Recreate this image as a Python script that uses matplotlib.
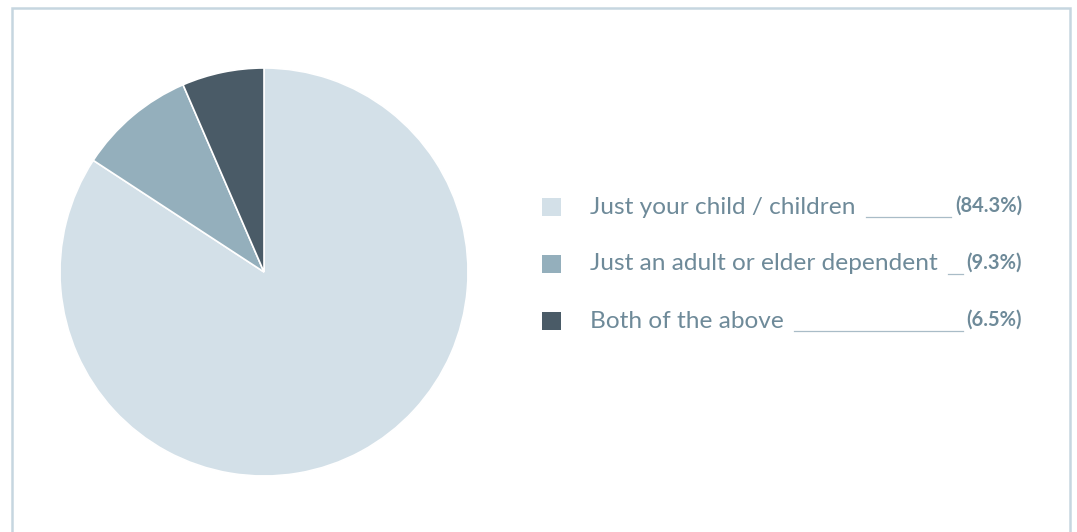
import matplotlib
matplotlib.use("Agg")
import matplotlib.pyplot as plt
from matplotlib.patches import Rectangle

# categories and shares
labels = ["Just your child / children", "Just an adult or elder dependent", "Both of the above"]
shares = [84.3, 9.3, 6.5]
pct_labels = ["(84.3%)", "(9.3%)", "(6.5%)"]
colors = ["#d3e0e8", "#94afbc", "#4a5b67"]

text_color = "#6e8a99"
plt.rcParams['font.family'] = ['Lato', 'DejaVu Sans']

W, H = 1077, 532
fig = plt.figure(figsize=(W / 100, H / 100), dpi=100)
fig.patch.set_facecolor("white")

# outer frame (open at the bottom)
fig.patches.append(Rectangle((12 / W, -0.1), (1070 - 12) / W, 1.1 - 8 / H,
                             transform=fig.transFigure, fill=False,
                             edgecolor="#c6d6e0", linewidth=1.8))

# pie
r = 204
cx, cy = 264, 272
ax = fig.add_axes([(cx - r) / W, (H - cy - r) / H, 2 * r / W, 2 * r / H])
ax.pie(shares, colors=colors, startangle=90, counterclock=False,
       wedgeprops=dict(edgecolor="white", linewidth=1.2))
ax.set_aspect("equal")
ax.set_xlim(-1, 1)
ax.set_ylim(-1, 1)
ax.axis("off")

# legend rows
row_y = [207, 264, 321]
fig.canvas.draw()
renderer = fig.canvas.get_renderer()
for lab, pct, col, y in zip(labels, pct_labels, colors, row_y):
    yf = 1 - y / H
    fig.patches.append(Rectangle((542 / W, 1 - (y + 9) / H), 19 / W, 18 / H,
                                 transform=fig.transFigure, facecolor=col,
                                 edgecolor="none"))
    t = fig.text(590 / W, yf, lab, fontsize=17.6, color=text_color,
                 va="center", ha="left")
    p = fig.text(1022 / W, yf + 1.5 / H, pct, fontsize=14.5, color=text_color,
                 fontweight="bold", va="center", ha="right")
    te = t.get_window_extent(renderer)
    pe = p.get_window_extent(renderer)
    x0 = te.x1 + 10
    x1 = pe.x0 - 4
    if x1 > x0:
        ly = 1 - (y + 10) / H
        fig.add_artist(plt.Line2D([x0 / W, x1 / W], [ly, ly],
                                  transform=fig.transFigure,
                                  color="#a9bcc7", linewidth=0.9))

fig.savefig("out.png", dpi=100)
